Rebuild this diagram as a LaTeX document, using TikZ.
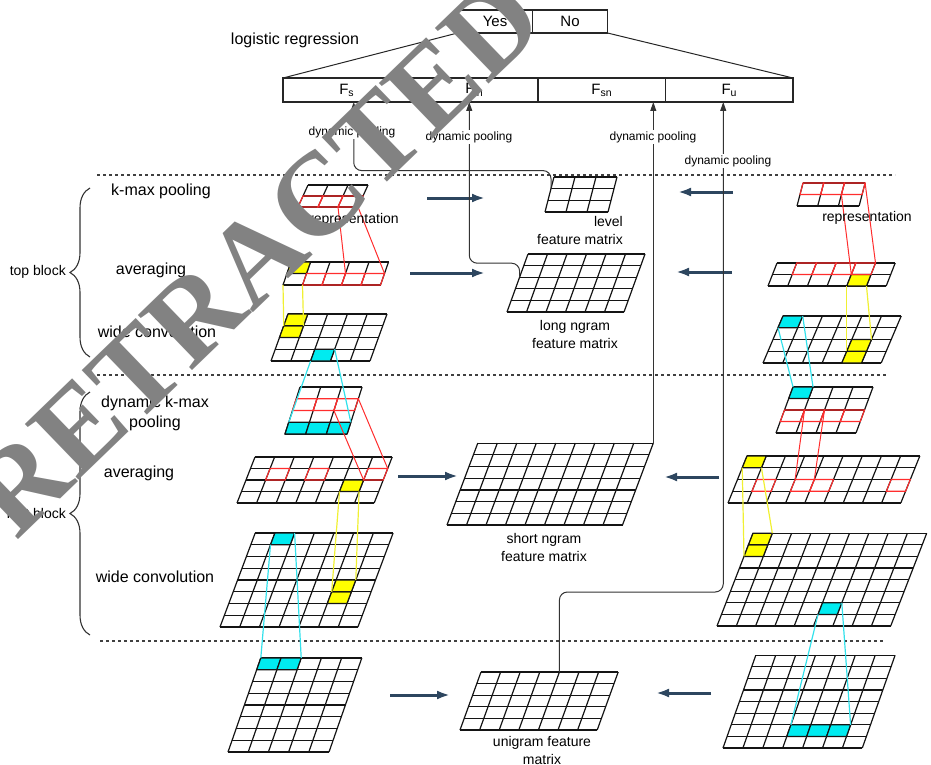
\documentclass[tikz,border=0pt]{standalone}
\usepackage{fontspec}
\setmainfont{Liberation Sans}
\newfontfamily\wmfont{Liberation Serif}
\usetikzlibrary{arrows.meta,positioning,calc,decorations.pathreplacing}
\definecolor{gridcol}{RGB}{20,20,20}
\definecolor{cellyellow}{RGB}{255,255,0}
\definecolor{cellcyan}{RGB}{0,235,240}
\definecolor{linkred}{RGB}{255,45,45}
\definecolor{linkyellow}{RGB}{240,240,50}
\definecolor{linkcyan}{RGB}{50,225,235}
\definecolor{arrline}{RGB}{45,70,95}
\definecolor{arrhead}{RGB}{40,200,225}
\definecolor{wmgray}{RGB}{130,130,130}
\tikzset{
  gridline/.style={draw=gridcol, line width=1.2pt},
  ycell/.style   ={fill=cellyellow, draw=gridcol, line width=1.2pt},
  ccell/.style   ={fill=cellcyan, draw=gridcol, line width=1.2pt},
  rcell/.style   ={draw=linkred, line width=1.1pt},
  rlink/.style   ={draw=linkred, line width=1pt},
  ylink/.style   ={draw=linkyellow, line width=1.2pt},
  clink/.style   ={draw=linkcyan, line width=1.2pt},
  sepline/.style ={draw=black!75, line width=1.2pt, dash pattern=on 3pt off 3pt},
  fbox/.style    ={draw=black!85, line width=1.1pt, minimum width=127.5pt,
                   minimum height=24pt, inner sep=0pt, outer sep=0pt,
                   font=\fontsize{15}{18}\selectfont},
  ynbox/.style   ={fbox, minimum width=75pt, minimum height=23pt},
  farr/.style    ={draw=black!80, line width=1pt, rounded corners=8pt,
                   -{Triangle[length=9pt,width=6pt]}},
  barr/.style    ={draw=arrline, line width=3pt,
                   -{Latex[length=13pt,width=9pt,fill=arrhead]}},
  brc/.style     ={draw=black!80, line width=1.1pt, decorate,
                   decoration={brace, amplitude=20pt}},
  rowlbl/.style  ={font=\fontsize{16}{20}\selectfont, inner sep=0pt, align=center},
  smalllbl/.style={font=\fontsize{12}{14}\selectfont, fill=white, inner sep=1pt},
  matlbl/.style  ={font=\fontsize{14}{18}\selectfont, inner sep=0pt, align=center},
  blklbl/.style  ={font=\fontsize{14}{17}\selectfont, inner sep=0pt, anchor=east},
}
% parallelogram grid: name, x0, y0 (lower left), cols, rows, cell w, cell h, slant
\newcommand{\pgrid}[8]{%
  \begin{scope}[shift={(#2,#3)}, x={(#6pt,0pt)}, y={(#8pt,#7pt)}]
    \foreach \gi in {0,...,#4}{\foreach \gj in {0,...,#5}{\coordinate (#1-\gi-\gj) at (\gi,\gj);}}
    \foreach \gi in {0,...,#4}{\draw[gridline] (\gi,0) -- (\gi,#5);}
    \foreach \gj in {0,...,#5}{\draw[gridline] (0,\gj) -- (#4,\gj);}
  \end{scope}}
\newcommand{\pcell}[4]{%
  \pgfmathtruncatemacro{\cellnx}{#2+1}\pgfmathtruncatemacro{\cellny}{#3+1}%
  \path[#4] (#1-#2-#3) -- (#1-\cellnx-#3) -- (#1-\cellnx-\cellny) -- (#1-#2-\cellny) -- cycle;}

\begin{document}
\begin{tikzpicture}[x=1pt, y=-1pt]
  \useasboundingbox (0,0) rectangle (931,765);

  % output layer
  \node[ynbox] (yes) at (495,21.5) {Yes};
  \node[ynbox, right=0pt of yes] (no) {No};
  \node[rowlbl] (logreg) at (295,40) {logistic regression};
  \node[fbox] (Fs) at (346.75,90) {F\textsubscript{s}};
  \node[fbox, right=0pt of Fs] (Fln) {F\textsubscript{ln}};
  \node[fbox, right=0pt of Fln] (Fsn) {F\textsubscript{sn}};
  \node[fbox, right=0pt of Fsn] (Fu) {F\textsubscript{u}};
  \draw[black!85, line width=1pt] (yes.south west) -- (Fs.north west);
  \draw[black!85, line width=1pt] (no.south east) -- (Fu.north east);

  % separators and blocks
  \draw[sepline] (97,175) -- (895,175);
  \draw[sepline] (97,375) -- (887,375);
  \draw[sepline] (100,641) -- (885,641);
  \draw[brc] (90,357) -- (90,188);
  \node[blklbl] (topblk) at (66,272) {top block};
  \draw[brc] (90,635) -- (90,392);
  \node[blklbl] (firstblk) at (66,513) {first block};

  \node[rowlbl] (kmax) at (161,191) {k-max pooling};
  \node[rowlbl] (avgtop) at (151,270) {averaging};
  \node[rowlbl] (wctop) at (157,332) {wide convolution};
  \node[rowlbl] (dkmax) at (155,413) {dynamic k-max\\pooling};
  \node[rowlbl] (avgfirst) at (139,473) {averaging};
  \node[rowlbl] (wcfirst) at (155,577) {wide convolution};

  % top block, left
  \pgrid{ka}{298}{207}{3}{2}{20}{11}{5}
  \foreach \k in {0,1,2}{\pcell{ka}{\k}{0}{rcell}}
  \pgrid{av1}{283}{285}{5}{2}{19.5}{11.5}{4}
  \pcell{av1}{0}{1}{ycell}
  \foreach \k in {1,...,4}{\pcell{av1}{\k}{0}{rcell}}
  \pgrid{wc1}{271}{361}{5}{4}{19.8}{11.75}{4.25}
  \pcell{wc1}{0}{2}{ycell}\pcell{wc1}{0}{3}{ycell}
  \pcell{wc1}{2}{0}{ccell}

  % top block, right
  \pgrid{kb}{797}{206}{3}{2}{20.7}{11.5}{3}
  \foreach \k in {0,1,2}{\pcell{kb}{\k}{1}{rcell}}
  \pgrid{av2}{768}{286}{6}{2}{19.7}{11.5}{4.5}
  \pcell{av2}{4}{0}{ycell}
  \foreach \k in {1,...,4}{\pcell{av2}{\k}{1}{rcell}}
  \pgrid{wc2}{763}{363}{6}{4}{19.7}{11.75}{5}
  \pcell{wc2}{0}{3}{ccell}
  \pcell{wc2}{4}{0}{ycell}\pcell{wc2}{4}{1}{ycell}

  % feature matrices
  \pgrid{lv}{545}{212}{3}{3}{21}{11.7}{3}
  \pgrid{lg}{507}{312}{6}{5}{19.5}{11.6}{4.2}
  \pgrid{sg}{447}{525}{9}{7}{19.5}{11.7}{4.4}
  \pgrid{ug}{460}{730}{7}{5}{19.6}{11.6}{4.2}

  % first block, left
  \pgrid{kd}{285}{434}{3}{4}{20.7}{11.75}{3.75}
  \foreach \k in {0,1,2}{\pcell{kd}{\k}{0}{ccell}\pcell{kd}{\k}{2}{rcell}}
  \pgrid{av4}{237}{503}{7}{4}{19.6}{11.5}{4.5}
  \pcell{av4}{5}{1}{ycell}
  \foreach \k in {1,3,6}{\pcell{av4}{\k}{2}{rcell}}
  \pgrid{wc4}{220}{627}{7}{8}{19.7}{11.75}{4.4}
  \pcell{wc4}{1}{7}{ccell}
  \pcell{wc4}{5}{2}{ycell}\pcell{wc4}{5}{3}{ycell}

  % first block, right
  \pgrid{kc}{776}{433}{4}{4}{20}{11.5}{4.25}
  \pcell{kc}{0}{3}{ccell}
  \foreach \k in {0,...,3}{\pcell{kc}{\k}{1}{rcell}}
  \pgrid{av3}{728}{503}{9}{4}{19.2}{11.75}{4.75}
  \pcell{av3}{0}{3}{ycell}
  \foreach \k in {1,3,4,8}{\pcell{av3}{\k}{1}{rcell}}
  \pgrid{wc3}{717}{626}{9}{8}{19.3}{11.6}{4.5}
  \pcell{wc3}{0}{6}{ycell}\pcell{wc3}{0}{7}{ycell}
  \pcell{wc3}{5}{1}{ccell}

  % input
  \pgrid{ua}{228}{752}{5}{8}{20.2}{11.75}{4.1}
  \pcell{ua}{0}{7}{ccell}\pcell{ua}{1}{7}{ccell}
  \pgrid{ud}{723}{748}{7}{8}{19.9}{11.6}{4.1}
  \foreach \k in {3,4,5}{\pcell{ud}{\k}{1}{ccell}}

  % links between layers
  \draw[rlink] (ka-2-0) -- (av1-3-1);
  \draw[rlink] (ka-3-0) -- (av1-5-1);
  \draw[rlink] (kb-2-1) -- (av2-4-1);
  \draw[rlink] (kb-3-2) -- (av2-5-2);
  \draw[rlink] (kd-2-2) -- (av4-6-2);
  \draw[rlink] (kd-3-3) -- (av4-7-3);
  \draw[rlink] (kc-1-2) -- (av3-3-2);
  \draw[rlink] (kc-2-2) -- (av3-4-2);
  \draw[ylink] (av1-0-0) -- (wc1-0-3);
  \draw[ylink] (av1-1-0) -- (wc1-1-3);
  \draw[ylink] (av2-4-0) -- (wc2-4-1);
  \draw[ylink] (av2-5-0) -- (wc2-5-2);
  \draw[ylink] (av4-5-1) -- (wc4-5-3);
  \draw[ylink] (av4-6-1) -- (wc4-6-4);
  \draw[ylink] (av3-0-3) -- (wc3-0-6);
  \draw[ylink] (av3-1-3) -- (wc3-1-8);
  \draw[clink] (wc1-2-0) -- (kd-0-1);
  \draw[clink] (wc1-3-1) -- (kd-3-1);
  \draw[clink] (wc2-0-3) -- (kc-0-4);
  \draw[clink] (wc2-1-4) -- (kc-1-4);
  \draw[clink] (wc4-1-7) -- (ua-0-8);
  \draw[clink] (wc4-2-8) -- (ua-2-8);
  \draw[clink] (wc3-5-1) -- (ud-3-2);
  \draw[clink] (wc3-6-2) -- (ud-6-2);

  % arrows into the feature matrices
  \coordinate (kmL-a) at (427,198); \coordinate (kmL-b) at (485,198);
  \coordinate (kmR-a) at (733,192); \coordinate (kmR-b) at (678,192);
  \coordinate (avL-a) at (410,273); \coordinate (avL-b) at (485,273);
  \coordinate (avR-a) at (732,272); \coordinate (avR-b) at (676,272);
  \coordinate (fbL-a) at (398,476); \coordinate (fbL-b) at (458,476);
  \coordinate (fbR-a) at (719,477); \coordinate (fbR-b) at (664,477);
  \coordinate (ugL-a) at (390,695); \coordinate (ugL-b) at (450,695);
  \coordinate (ugR-a) at (711,693); \coordinate (ugR-b) at (656,693);
  \draw[barr] (kmL-a) -- (kmL-b);
  \draw[barr] (kmR-a) -- (kmR-b);
  \draw[barr] (avL-a) -- (avL-b);
  \draw[barr] (avR-a) -- (avR-b);
  \draw[barr] (fbL-a) -- (fbL-b);
  \draw[barr] (fbR-a) -- (fbR-b);
  \draw[barr] (ugL-a) -- (ugL-b);
  \draw[barr] (ugR-a) -- (ugR-b);

  % dynamic pooling into the output layer
  \coordinate (Fs-in) at ([xshift=7pt]Fs.south);
  \coordinate (Fln-in) at ([xshift=-5pt]Fln.south);
  \coordinate (Fu-in) at ([xshift=-6pt]Fu.south);
  \draw[farr] (lv-0-2) -- ++(0,-18) -| (Fs-in);
  \draw[farr] (lg-0-3) -- ++(0,-14) -| (Fln-in);
  \draw[farr] (sg-9-7) -- (sg-9-7 |- Fsn.south);
  \draw[farr] (ug-4-5) -- ++(0,-80) -| (Fu-in);
  \node[smalllbl] (dp1) at (352,132) {dynamic pooling};
  \node[smalllbl] (dp2) at (469,137) {dynamic pooling};
  \node[smalllbl] (dp3) at (653,137) {dynamic pooling};
  \node[smalllbl] (dp4) at (728,161) {dynamic pooling};

  % matrix labels
  \node[matlbl] (repL) at (354,220) {representation};
  \node[matlbl] (repR) at (867,218) {representation};
  \node[matlbl, anchor=east, align=right] (lvlbl) at (623,230) {level\\feature matrix};
  \node[matlbl] (lglbl) at (575,334) {long ngram\\feature matrix};
  \node[matlbl] (sglbl) at (544,547) {short ngram\\feature matrix};
  \node[matlbl] (uglbl) at (542,750) {unigram feature\\matrix};

  % watermark
  \node[rotate=44, text=wmgray, inner sep=0pt,
        font=\wmfont\bfseries\fontsize{118}{118}\selectfont] (wm) at (256,256) {RETRACTED};
\end{tikzpicture}
\end{document}
